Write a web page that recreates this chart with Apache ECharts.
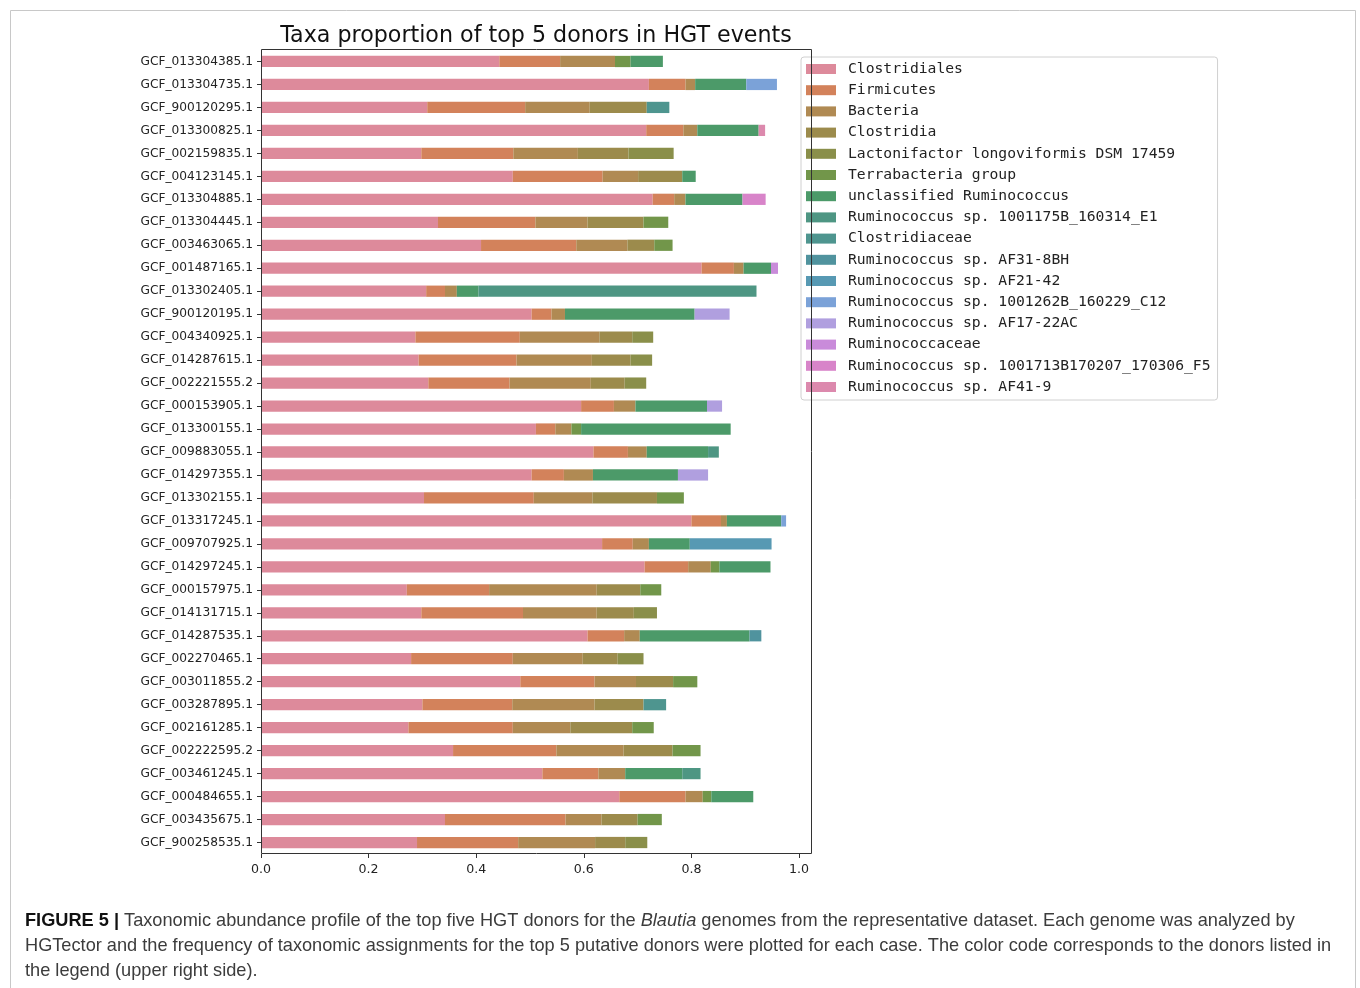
<!DOCTYPE html>
<html>
<head>
<meta charset="utf-8">
<script src="https://cdn.jsdelivr.net/npm/echarts@6/dist/echarts.min.js"></script>
<style>
html,body{margin:0;padding:0;background:#fff;}
#chart{width:1360px;height:988px;}
</style>
</head>
<body>
<div id="chart"></div>
<script>
const categories = ["GCF_013304385.1","GCF_013304735.1","GCF_900120295.1","GCF_013300825.1","GCF_002159835.1","GCF_004123145.1","GCF_013304885.1","GCF_013304445.1","GCF_003463065.1","GCF_001487165.1","GCF_013302405.1","GCF_900120195.1","GCF_004340925.1","GCF_014287615.1","GCF_002221555.2","GCF_000153905.1","GCF_013300155.1","GCF_009883055.1","GCF_014297355.1","GCF_013302155.1","GCF_013317245.1","GCF_009707925.1","GCF_014297245.1","GCF_000157975.1","GCF_014131715.1","GCF_014287535.1","GCF_002270465.1","GCF_003011855.2","GCF_003287895.1","GCF_002161285.1","GCF_002222595.2","GCF_003461245.1","GCF_000484655.1","GCF_003435675.1","GCF_900258535.1"];

const seriesNames = ["Clostridiales","Firmicutes","Bacteria","Clostridia","Lactonifactor longoviformis DSM 17459","Terrabacteria group","unclassified Ruminococcus","Ruminococcus sp. 1001175B_160314_E1","Clostridiaceae","Ruminococcus sp. AF31-8BH","Ruminococcus sp. AF21-42","Ruminococcus sp. 1001262B_160229_C12","Ruminococcus sp. AF17-22AC","Ruminococcaceae","Ruminococcus sp. 1001713B170207_170306_F5","Ruminococcus sp. AF41-9"];

const clostridiales = [0.443,0.721,0.309,0.716,0.298,0.468,0.728,0.329,0.409,0.819,0.307,0.503,0.287,0.293,0.311,0.595,0.511,0.618,0.503,0.303,0.800,0.634,0.713,0.271,0.298,0.607,0.279,0.482,0.300,0.274,0.357,0.523,0.666,0.342,0.290];
const firmicutes = [0.113,0.068,0.182,0.069,0.171,0.167,0.040,0.181,0.177,0.060,0.035,0.037,0.194,0.182,0.151,0.061,0.036,0.064,0.060,0.204,0.055,0.057,0.081,0.153,0.189,0.068,0.189,0.138,0.167,0.194,0.192,0.104,0.123,0.224,0.188];
const bacteria = [0.102,0.018,0.120,0.026,0.120,0.066,0.021,0.097,0.095,0.018,0.022,0.025,0.148,0.140,0.151,0.040,0.030,0.035,0.054,0.109,0.011,0.030,0.042,0.200,0.137,0.029,0.130,0.077,0.153,0.107,0.125,0.050,0.032,0.067,0.143];
const clostridia = [0,0,0.106,0,0.094,0.082,0,0.104,0.050,0,0,0,0.061,0.072,0.063,0,0,0,0,0.120,0,0,0,0.081,0.069,0,0.065,0.069,0.091,0.115,0.091,0,0,0.067,0.056];
const lactonifactor = [0,0,0,0,0.084,0,0,0,0,0,0,0,0.039,0.040,0.040,0,0,0,0,0,0,0,0,0,0.043,0,0.048,0,0,0,0,0,0,0,0.041];
const terrabacteria = [0.029,0,0,0,0,0,0,0.046,0.034,0,0,0,0,0,0,0,0.018,0,0,0.050,0,0,0.016,0.039,0,0,0,0.045,0,0.040,0.052,0,0.016,0.045,0];
const unclRuminococcus = [0.060,0.095,0,0.114,0,0.025,0.106,0,0,0.051,0.040,0.241,0,0,0,0.133,0.278,0.114,0.158,0,0.101,0.076,0.095,0,0,0.204,0,0,0,0,0,0.106,0.078,0,0];
const rum1001175B = [0,0,0,0,0,0,0,0,0,0,0.517,0,0,0,0,0,0,0.020,0,0,0,0,0,0,0,0,0,0,0,0,0,0.034,0,0,0];
const clostridiaceae = [0,0,0.042,0,0,0,0,0,0,0,0,0,0,0,0,0,0,0,0,0,0,0,0,0,0,0,0,0,0.042,0,0,0,0,0,0];
const rumAF31 = [0,0,0,0,0,0,0,0,0,0,0,0,0,0,0,0,0,0,0,0,0,0,0,0,0,0.022,0,0,0,0,0,0,0,0,0];
const rumAF21 = [0,0,0,0,0,0,0,0,0,0,0,0,0,0,0,0,0,0,0,0,0,0.152,0,0,0,0,0,0,0,0,0,0,0,0,0];
const rum1001262B = [0,0.057,0,0,0,0,0,0,0,0,0,0,0,0,0,0,0,0,0,0,0.009,0,0,0,0,0,0,0,0,0,0,0,0,0,0];
const rumAF17 = [0,0,0,0,0,0,0,0,0,0,0,0.065,0,0,0,0.028,0,0,0.056,0,0,0,0,0,0,0,0,0,0,0,0,0,0,0,0];
const ruminococcaceae = [0,0,0,0,0,0,0,0,0,0.013,0,0,0,0,0,0,0,0,0,0,0,0,0,0,0,0,0,0,0,0,0,0,0,0,0];
const rum1001713B = [0,0,0,0,0,0,0.043,0,0,0,0,0,0,0,0,0,0,0,0,0,0,0,0,0,0,0,0,0,0,0,0,0,0,0,0];
const rumAF41 = [0,0,0,0.012,0,0,0,0,0,0,0,0,0,0,0,0,0,0,0,0,0,0,0,0,0,0,0,0,0,0,0,0,0,0,0];

const seriesData = [clostridiales,firmicutes,bacteria,clostridia,lactonifactor,terrabacteria,unclRuminococcus,rum1001175B,clostridiaceae,rumAF31,rumAF21,rum1001262B,rumAF17,ruminococcaceae,rum1001713B,rumAF41];

const colors = ["#dd8a9b","#d3825b","#b08a53","#9c8b4c","#8a8f4a","#72964a","#4c9a69","#4e9683","#4e958f","#50939e","#5799b3","#7ba2d8","#b09fdf","#c98bda","#d884c9","#dc89ad"];

const xTicks = [0,0.2,0.4,0.6,0.8,1.0];

const chart = echarts.init(document.getElementById('chart'));
const option = {
  animation:false,
  backgroundColor:'#ffffff',
  color: colors,
  grid:{left:261, top:50, width:538, height:804, containLabel:false},
  xAxis:{
    type:'value', min:xTicks[0], max:xTicks[xTicks.length-1], interval:0.2,
    axisLine:{show:false},
    axisTick:{show:true, length:4, lineStyle:{color:'#333'}},
    axisLabel:{margin:9, fontSize:12.6, color:'#222', fontFamily:'DejaVu Sans', formatter:v=>v.toFixed(1)},
    splitLine:{show:false}
  },
  yAxis:{
    type:'category', inverse:true, data:categories,
    axisLine:{show:false},
    axisTick:{show:true, alignWithLabel:true, length:4, lineStyle:{color:'#333'}},
    axisLabel:{margin:8, fontSize:12.2, color:'#222', fontFamily:'DejaVu Sans'}
  },
  legend:{
    orient:'vertical', left:801, top:57,
    data:seriesNames, selectedMode:false,
    icon:'rect', itemWidth:30, itemHeight:10, itemGap:5.2,
    padding:[4,7,5,5],
    backgroundColor:'#fff', borderColor:'#d0d0d0', borderWidth:1, borderRadius:3,
    textStyle:{fontFamily:'DejaVu Sans Mono', fontSize:14.7, color:'#222', lineHeight:16, padding:[0,0,0,7]}
  },
  series: seriesNames.map((n,i)=>({
    name:n, type:'bar', stack:'total', barWidth:'49%',
    data: seriesData[i],
    itemStyle:{color:colors[i]},
    emphasis:{disabled:true}
  })),
  graphic:[
    {type:'rect', z:100, silent:true, shape:{x:10.5,y:10.5,width:1345,height:1000}, style:{fill:'none', stroke:'#c8c8c8', lineWidth:1}},
    {type:'rect', z:100, silent:true, shape:{x:261.5,y:49.5,width:550,height:804}, style:{fill:'none', stroke:'#333', lineWidth:1}},
    {type:'text', z:100, x:536, y:36, style:{text:'Taxa proportion of top 5 donors in HGT events', fontFamily:'DejaVu Sans', fontSize:22.2, fill:'#111', textAlign:'center', textVerticalAlign:'middle'}},
    {type:'text', z:100, x:25, y:921, style:{
      text:'{b|FIGURE 5 |} Taxonomic abundance profile of the top five HGT donors for the {i|Blautia} genomes from the representative dataset. Each genome was analyzed by',
      fontFamily:'Liberation Sans', fontSize:18.2, fill:'#3c3c3c', textVerticalAlign:'middle',
      rich:{b:{fontWeight:'bold', fill:'#111', fontFamily:'Liberation Sans', fontSize:18.2}, i:{fontStyle:'italic', fontFamily:'Liberation Sans', fontSize:18.2, fill:'#3c3c3c'}}
    }},
    {type:'text', z:100, x:25, y:946, style:{
      text:'HGTector and the frequency of taxonomic assignments for the top 5 putative donors were plotted for each case. The color code corresponds to the donors listed in',
      fontFamily:'Liberation Sans', fontSize:18.2, fill:'#3c3c3c', textVerticalAlign:'middle'
    }},
    {type:'text', z:100, x:25, y:971, style:{
      text:'the legend (upper right side).',
      fontFamily:'Liberation Sans', fontSize:18.2, fill:'#3c3c3c', textVerticalAlign:'middle'
    }}
  ]
};
chart.setOption(option);
</script>
</body>
</html>
